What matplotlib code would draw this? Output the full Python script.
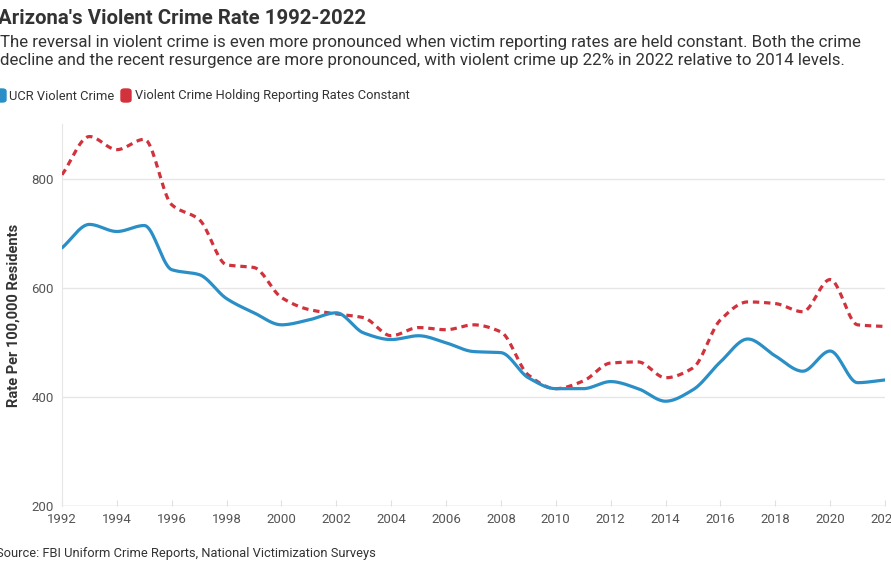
import numpy as np
import matplotlib.pyplot as plt
from matplotlib.patches import FancyBboxPatch

plt.rcParams['font.family'] = ['Roboto', 'DejaVu Sans']

years = list(range(1992, 2023))
ucr_rate = [673, 716, 703, 714, 633, 624, 580, 554, 532, 541, 554, 517, 505, 512,
            499, 483, 481, 435, 415, 415, 428, 415, 392, 413, 464, 506, 475, 447,
            484, 426, 431]
constant_rate = [807, 877, 853, 872, 752, 725, 642, 637, 582, 560, 552, 545, 512,
                 527, 523, 532, 519, 440, 415, 429, 462, 464, 435, 453, 541, 574,
                 571, 556, 615, 532, 529]
y_ticks = [200, 400, 600, 800]
x_ticks = list(range(1992, 2023, 2))

BLUE = '#2a8fc6'
RED = '#d1323c'
TEXT = '#333333'
GRID = '#e6e6e6'


def monotone_curve(x, y, n=20):
    # Fritsch-Carlson monotone cubic, like d3's curveMonotoneX
    x = np.asarray(x, float)
    y = np.asarray(y, float)
    h = np.diff(x)
    d = np.diff(y) / h
    m = np.zeros_like(y)
    m[0], m[-1] = d[0], d[-1]
    for i in range(1, len(y) - 1):
        if d[i - 1] * d[i] > 0:
            w1 = 2 * h[i] + h[i - 1]
            w2 = h[i] + 2 * h[i - 1]
            m[i] = (w1 + w2) / (w1 / d[i - 1] + w2 / d[i])
    xs, ys = [], []
    for i in range(len(x) - 1):
        t = np.linspace(0, 1, n, endpoint=False)
        h00 = 2 * t**3 - 3 * t**2 + 1
        h10 = t**3 - 2 * t**2 + t
        h01 = -2 * t**3 + 3 * t**2
        h11 = t**3 - t**2
        xs.append(x[i] + t * h[i])
        ys.append(h00 * y[i] + h10 * h[i] * m[i] + h01 * y[i + 1] + h11 * h[i] * m[i + 1])
    xs.append([x[-1]])
    ys.append([y[-1]])
    return np.concatenate(xs), np.concatenate(ys)


fig = plt.figure(figsize=(8.91, 5.69), dpi=100)
ax = fig.add_axes([62 / 891, 1 - 506 / 569, (885 - 62) / 891, (506 - 124) / 569])

cx, cy = monotone_curve(years, constant_rate)
ax.plot(cx, cy, color=RED, lw=2.3, dashes=(2.0, 1.5), zorder=3)
bx, by = monotone_curve(years, ucr_rate)
ax.plot(bx, by, color=BLUE, lw=2.3, solid_capstyle='round', zorder=4)

ax.set_xlim(1992, 2022)
ax.set_ylim(200, 900)
ax.set_yticks(y_ticks)
ax.set_xticks(x_ticks)
ax.set_xticklabels([str(v) for v in x_ticks])
ax.grid(axis='y', color=GRID, lw=1)
for s in ['top', 'right', 'bottom']:
    ax.spines[s].set_visible(False)
ax.spines['left'].set_color(GRID)
ax.axhline(200, color='#dddddd', lw=1, zorder=1)
ax.tick_params(axis='y', length=0, labelsize=9.5, labelcolor='#555555', pad=6)
ax.tick_params(axis='x', length=4, color='#e0e0e0', direction='in', labelsize=9.5,
               labelcolor='#555555', pad=5)
ax.set_ylabel('Rate Per 100,000 Residents', fontsize=10.5, fontweight='bold',
              color=TEXT)
ax.yaxis.set_label_coords(-41 / 823, 0.5)

fig.text(-0.002, 1 - 18 / 569, "Arizona's Violent Crime Rate 1992-2022", fontsize=14.7,
         fontweight='bold', color=TEXT, va='center', ha='left')
fig.text(0.0, 1 - 52 / 569,
         'The reversal in violent crime is even more pronounced when victim reporting rates '
         'are held constant. Both the crime\n'
         'decline and the recent resurgence are more pronounced, with violent crime up 22% '
         'in 2022 relative to 2014 levels.',
         fontsize=12.15, color=TEXT, va='center', ha='left', linespacing=1.25)

# legend swatches
for x0, col in [(-4, BLUE), (121, RED)]:
    fig.patches.append(FancyBboxPatch((x0 / 891, 1 - 102 / 569), 10 / 891, 13 / 569,
                                      boxstyle='round,pad=0,rounding_size=0.004',
                                      transform=fig.transFigure, color=col, figure=fig))
fig.text(9 / 891, 1 - 96 / 569, 'UCR Violent Crime', fontsize=9.3, color=TEXT, va='center')
fig.text(135 / 891, 1 - 96 / 569, 'Violent Crime Holding Reporting Rates Constant',
         fontsize=9.3, color=TEXT, va='center')

fig.text(-0.004, 1 - 554 / 569, 'Source: FBI Uniform Crime Reports, National Victimization Surveys',
         fontsize=9.3, color=TEXT, va='center')

fig.savefig('out.png', dpi=100)
